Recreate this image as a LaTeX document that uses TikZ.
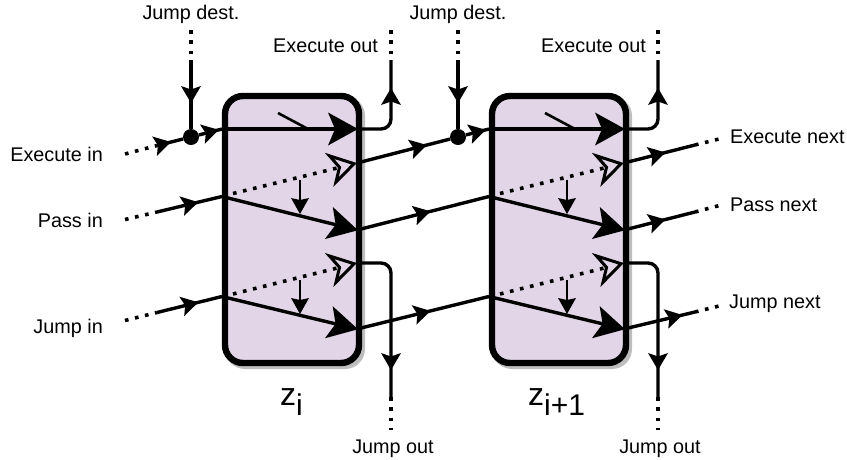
\documentclass[tikz,border=0pt]{standalone}
\usepackage{fontspec}
\setmainfont{Liberation Sans}
\usetikzlibrary{calc}
\definecolor{boxfill}{HTML}{E1D5E7}
\definecolor{shadowgray}{HTML}{BEBEBE}
\tikzset{
  block/.style={draw=black,line width=6.4pt,fill=boxfill,rounded corners=18pt,minimum width=134pt,minimum height=267pt,inner sep=0pt},
  blockshadow/.style={fill=shadowgray,rounded corners=20pt,minimum width=140pt,minimum height=273pt,inner sep=0pt},
  wire/.style={line width=3.4pt,line cap=butt,line join=round},
  wireend/.style={wire,shorten >=10pt},
  dots/.style={line width=3.6pt,dash pattern=on 3.6pt off 6.7pt},
  lbl/.style={inner sep=0pt,font=\fontsize{19.8}{22}\selectfont},
  captext/.style={inner sep=0pt,font=\fontsize{32}{34}\selectfont},
  midhead/.pic={\fill[black] (1,0) -- (-16,10) -- (-12.5,0) -- (-16,-10) -- cycle;},
  bighead/.pic={\fill[black] (1,0) -- (-29,16.5) -- (-22,0) -- (-29,-16.5) -- cycle;},
  drophead/.pic={\fill[black] (1,0) -- (-15,9) -- (-13,0) -- (-15,-9) -- cycle;},
  openhead/.pic={\draw[fill=boxfill,line width=3pt,miter limit=10] (-3,0) -- (-25,13.5) -- (-18,0) -- (-25,-13.5) -- cycle;},
  on/.style={pos=#1,sloped,allow upside down},
}
\begin{document}
\begin{tikzpicture}[x=1pt,y=-1pt]
\useasboundingbox (0,0) rectangle (847,459);
% blocks
\node[blockshadow] (sa) at (295,232.5) {};
\node[blockshadow] (sb) at (562,232.5) {};
\node[block] (za) at (292,229.5) {};
\node[block] (zb) at (559,229.5) {};
% labels
\node[lbl,anchor=base east] (l1) at (103,161) {Execute in};
\node[lbl,anchor=base east] (l2) at (103,227) {Pass in};
\node[lbl,anchor=base east] (l3) at (103,333) {Jump in};
\node[lbl,anchor=base] (l4) at (191,19) {Jump dest.};
\node[lbl,anchor=base] (l5) at (458,19) {Jump dest.};
\node[lbl,anchor=base east] (l6) at (378,52) {Execute out};
\node[lbl,anchor=base east] (l7) at (646,52) {Execute out};
\node[lbl,anchor=base] (l8) at (393,453) {Jump out};
\node[lbl,anchor=base] (l9) at (660,453) {Jump out};
\node[lbl,anchor=base west] (l10) at (730,143) {Execute next};
\node[lbl,anchor=base west] (l11) at (730,211) {Pass next};
\node[lbl,anchor=base west] (l12) at (729,308) {Jump next};
\node[captext,anchor=base west] (ca) at (280,405) {z\raisebox{-10pt}{\fontsize{30}{30}\selectfont i}};
\node[captext,anchor=base west] (cb) at (528,405) {z\raisebox{-10pt}{\fontsize{30}{30}\selectfont i+1}};
% junctions
\node[circle,fill=black,minimum size=16pt,inner sep=0pt] (ja) at (191,137) {};
\node[circle,fill=black,minimum size=16pt,inner sep=0pt] (jb) at (458,137) {};
% coordinates per block
\foreach \n/\d in {a/0,b/267}{
  \coordinate (ex\n)  at ({222+\d},129);
  \coordinate (ext\n) at ({357+\d},129);
  \coordinate (exs\n) at ({278+\d},113);
  \coordinate (exm\n) at ({308+\d},129);
  \coordinate (p\n)   at ({222+\d},196.5);
  \coordinate (pt\n)  at ({357+\d},230);
  \coordinate (ph\n)  at ({357+\d},163);
  \coordinate (pd\n)  at ({233+\d},193.5);
  \coordinate (jm\n)  at ({222+\d},296.5);
  \coordinate (jt\n)  at ({357+\d},329);
  \coordinate (jh\n)  at ({357+\d},263);
  \coordinate (jd\n)  at ({233+\d},294);
  \coordinate (s1\n)  at ({300+\d},180);
  \coordinate (e1\n)  at ({300+\d},213);
  \coordinate (s2\n)  at ({300+\d},280);
  \coordinate (e2\n)  at ({300+\d},313);
  \coordinate (dt\n)  at ({191+\d},30);
  \coordinate (ds\n)  at ({191+\d},60);
  \coordinate (dh\n)  at ({191+\d},102);
  \coordinate (ot\n)  at ({391+\d},30);
  \coordinate (os\n)  at ({391+\d},60);
  \coordinate (oh\n)  at ({391+\d},89);
  \coordinate (oc\n)  at ({391+\d},129);
  \coordinate (uc\n)  at ({391+\d},263);
  \coordinate (uh\n)  at ({391+\d},369);
  \coordinate (us\n)  at ({391+\d},397);
  \coordinate (ue\n)  at ({391+\d},430);
  % block contents
  \draw[wireend] (ex\n) -- (ext\n) pic[on=1]{bighead};
  \draw[line width=2.6pt] (exs\n) -- (exm\n);
  \draw[wireend] (p\n) -- (pt\n) pic[on=1]{bighead};
  \draw[wireend] (jm\n) -- (jt\n) pic[on=1]{bighead};
  \draw[line width=2pt,shorten >=8pt] (s1\n) -- (e1\n) pic[on=1]{drophead};
  \draw[line width=2pt,shorten >=8pt] (s2\n) -- (e2\n) pic[on=1]{drophead};
  \draw[dots] (pd\n) -- ($(ph\n)+(-19,4.8)$);
  \draw[dots] (jd\n) -- ($(jh\n)+(-19,4.8)$);
  \path (pd\n) -- (ph\n) pic[on=1]{openhead};
  \path (jd\n) -- (jh\n) pic[on=1]{openhead};
  % jump destination
  \draw[dots] (dt\n) -- (ds\n);
  \draw[wire] (ds\n) -- (j\n);
  \path (ds\n) -- (dh\n) pic[on=1]{midhead};
  % execute out
  \draw[dots] (ot\n) -- (os\n);
  \draw[wire,rounded corners=10pt] (ext\n) -- (oc\n) -- (os\n);
  \path (oc\n) -- (oh\n) pic[on=1]{midhead};
  % jump out
  \draw[wire,rounded corners=10pt] (jh\n) -- (uc\n) -- (us\n);
  \path (uc\n) -- (uh\n) pic[on=1]{midhead};
  \draw[dots] (us\n) -- (ue\n);
}
% left inputs
\coordinate (i1) at (125,154);   \coordinate (i1s) at (157,145.5);
\coordinate (i2) at (125,219.5); \coordinate (i2s) at (157,212);
\coordinate (i3) at (125,320.5); \coordinate (i3s) at (157,312.5);
\draw[dots] (i1) -- (i1s);
\draw[dots] (i2) -- (i2s);
\draw[dots] (i3) -- (i3s);
\draw[wire] (i1s) -- (ja) pic[on=0.5]{midhead};
\draw[wire] (i2s) -- (pa) pic[on=0.62]{midhead};
\draw[wire] (i3s) -- (jma) pic[on=0.62]{midhead};
% junction to block
\draw[wire] (ja) -- (exa) pic[on=0.82]{midhead};
\draw[wire] (jb) -- (exb) pic[on=0.82]{midhead};
% block a to block b
\draw[wire] (pha) -- (jb) pic[on=0.74]{midhead};
\draw[wire] (pta) -- (pb) pic[on=0.55]{midhead};
\draw[wire] (jta) -- (jmb) pic[on=0.55]{midhead};
% right outputs
\coordinate (n1s) at (695,145); \coordinate (n1e) at (723,138);
\coordinate (n2s) at (695,212); \coordinate (n2e) at (723,204.5);
\coordinate (n3s) at (695,312); \coordinate (n3e) at (723,305);
\draw[wire] (phb) -- (n1s) pic[on=0.57]{midhead};
\draw[wire] (ptb) -- (n2s) pic[on=0.57]{midhead};
\draw[wire] (jtb) -- (n3s) pic[on=0.81]{midhead};
\draw[dots] (n1s) -- (n1e);
\draw[dots] (n2s) -- (n2e);
\draw[dots] (n3s) -- (n3e);
\end{tikzpicture}
\end{document}
